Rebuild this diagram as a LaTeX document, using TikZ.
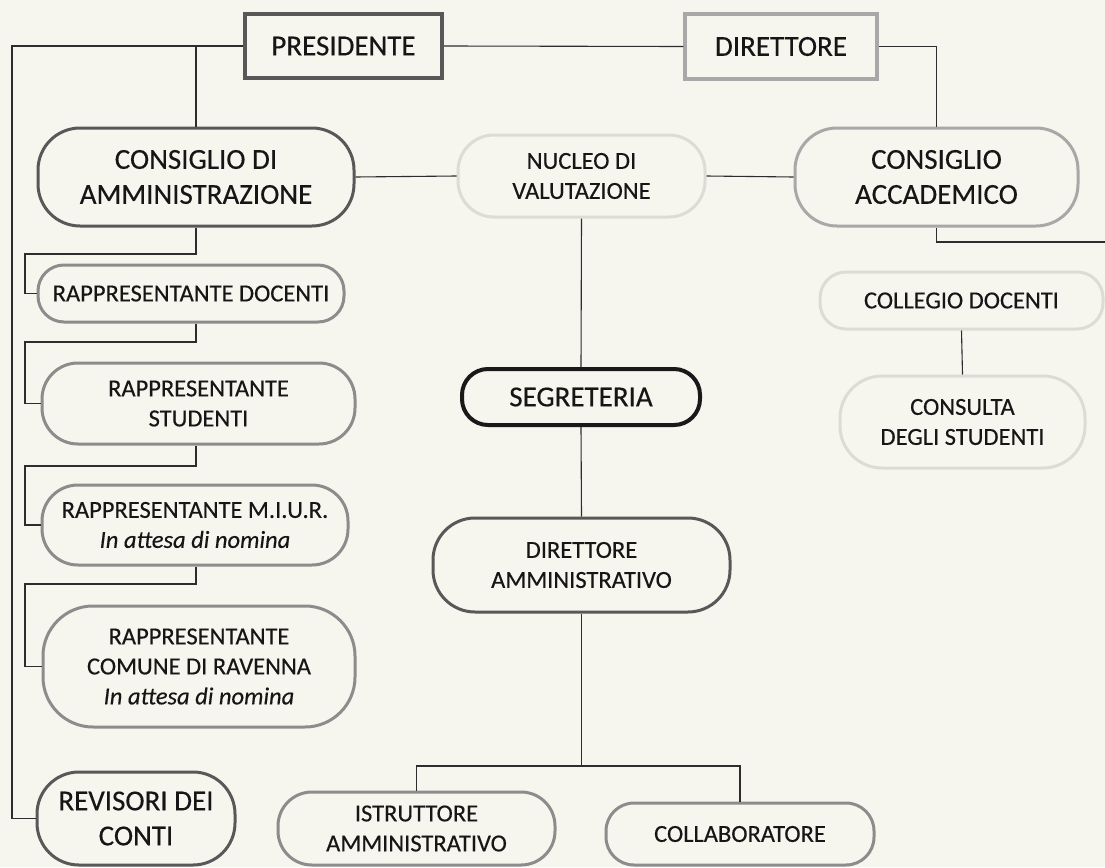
\documentclass[tikz,border=0pt]{standalone}
\usepackage{fontspec}
\setmainfont{Carlito}[FakeBold=0.35]
\definecolor{paper}{RGB}{246,245,238}
\definecolor{ink}{RGB}{22,22,22}
\definecolor{bdark}{RGB}{88,88,88}
\definecolor{bblack}{RGB}{25,25,25}
\definecolor{bmid}{RGB}{140,140,140}
\definecolor{blight}{RGB}{168,168,168}
\definecolor{bfaint}{RGB}{222,220,210}
\definecolor{wirec}{RGB}{45,45,45}
\begin{document}
\begin{tikzpicture}[x=1pt,y=-1pt,
  box/.style={draw, line width=3pt, inner sep=0pt, align=center, text=ink},
  bigtxt/.style={font=\fontsize{29}{35}\selectfont},
  smalltxt/.style={font=\fontsize{24.5}{30}\selectfont},
  wire/.style={draw=wirec, line width=1.1pt}]
\useasboundingbox (0,0) rectangle (1105,867);
\fill[paper] (0,0) rectangle (1105,867);

% top row
\node[box, bigtxt, draw=bdark, line width=3.5pt, minimum width=197pt, minimum height=64pt] (pres) at (343.5,46) {PRESIDENTE};
\node[box, bigtxt, draw=blight, line width=3.5pt, minimum width=192pt, minimum height=65pt] (dir) at (781,46.5) {DIRETTORE};

% second row
\node[box, bigtxt, draw=bdark, rounded corners=42pt, minimum width=316pt, minimum height=98pt] (cda) at (196,177) {CONSIGLIO DI\\AMMINISTRAZIONE};
\node[box, smalltxt, draw=bfaint, rounded corners=36pt, minimum width=247pt, minimum height=82pt] (nuc) at (581.5,176) {NUCLEO DI\\VALUTAZIONE};
\node[box, bigtxt, draw=blight, rounded corners=42pt, minimum width=283pt, minimum height=98pt] (ca) at (936.5,177) {CONSIGLIO\\ACCADEMICO};

% left column
\node[box, smalltxt, draw=bmid, rounded corners=26pt, minimum width=306pt, minimum height=57pt] (rd) at (191,293.5) {RAPPRESENTANTE DOCENTI};
\node[box, smalltxt, draw=bmid, rounded corners=36pt, minimum width=313pt, minimum height=81pt] (rs) at (198.5,403.5) {RAPPRESENTANTE\\STUDENTI};
\node[box, smalltxt, draw=bmid, rounded corners=36pt, minimum width=306pt, minimum height=80pt] (rm) at (195,525) {RAPPRESENTANTE M.I.U.R.\\\textit{In attesa di nomina}};
\node[box, smalltxt, draw=bmid, rounded corners=50pt, minimum width=312pt, minimum height=121pt] (rc) at (199,666.5) {RAPPRESENTANTE\\COMUNE DI RAVENNA\\\textit{In attesa di nomina}};
\node[box, bigtxt, draw=bdark, rounded corners=42pt, minimum width=198pt, minimum height=93pt] (rev) at (136,818.5) {REVISORI DEI\\CONTI};

% centre column
\node[box, bigtxt, draw=bblack, line width=4pt, rounded corners=26pt, minimum width=238pt, minimum height=56pt] (seg) at (581,397) {SEGRETERIA};
\node[box, smalltxt, draw=bdark, rounded corners=42pt, minimum width=297pt, minimum height=94pt] (da) at (581.5,565) {DIRETTORE\\AMMINISTRATIVO};
\node[box, smalltxt, draw=bmid, rounded corners=34pt, minimum width=277pt, minimum height=73pt] (ist) at (416.5,828.5) {ISTRUTTORE\\AMMINISTRATIVO};
\node[box, smalltxt, draw=bmid, rounded corners=28pt, minimum width=268pt, minimum height=62pt] (col) at (740,834) {COLLABORATORE};

% right column
\node[box, smalltxt, draw=bfaint, rounded corners=26pt, minimum width=283pt, minimum height=57pt] (cold) at (961.5,300.5) {COLLEGIO DOCENTI};
\node[box, smalltxt, draw=bfaint, rounded corners=42pt, minimum width=245pt, minimum height=92pt] (cons) at (962.5,422) {CONSULTA\\DEGLI STUDENTI};

% junction coordinates
\coordinate (L) at (12,46);
\coordinate (j1) at (25,254);
\coordinate (j2) at (25,342);
\coordinate (j3) at (25,466);
\coordinate (j4) at (25,584);
\coordinate (bj) at (581.5,766);
\coordinate (R) at (1105,242);

% connectors
\draw[wire] (pres.west) -- (L) |- (rev.west);
\draw[wire] (pres.east) -- (dir.west);
\draw[wire] (dir.east) -| (ca.north);
\draw[wire] (cda.north |- pres.west) -- (cda.north);
\draw[wire] (cda.east) -- (nuc.west);
\draw[wire] (nuc.east) -- (ca.west);
\draw[wire] (ca.south) |- (R);
\draw[wire] (nuc.south) -- (seg.north);
\draw[wire] (seg.south) -- (da.north);
\draw[wire] (da.south) -- (bj);
\draw[wire] (ist.north) |- (bj) -| (col.north);
\draw[wire] (cold.south) -- (cons.north);
\draw[wire] (cda.south) |- (j1) |- (rd.west);
\draw[wire] (rd.south -| cda.south) |- (j2) |- (rs.west);
\draw[wire] (rs.south -| cda.south) |- (j3) |- (rm.west);
\draw[wire] (rm.south -| cda.south) |- (j4) |- (rc.west);
\end{tikzpicture}
\end{document}
